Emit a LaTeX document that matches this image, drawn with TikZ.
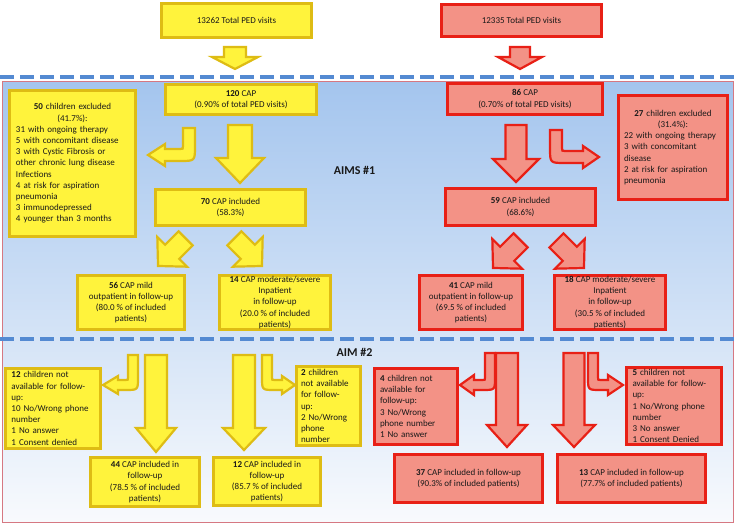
\documentclass[tikz,border=0pt]{standalone}
\usepackage{fontspec}
\setmainfont{Carlito}
\definecolor{yfill}{RGB}{255,243,60}
\definecolor{ydraw}{RGB}{222,188,20}
\definecolor{rfill}{RGB}{243,146,134}
\definecolor{rdraw}{RGB}{232,32,22}
\definecolor{dashblue}{RGB}{84,138,210}
\definecolor{bgtop}{RGB}{164,197,238}
\definecolor{bgbot}{RGB}{248,250,253}
\definecolor{bgedge}{RGB}{214,120,130}
\definecolor{txt}{RGB}{25,25,25}
% straight down block arrow: style, cx, top, headstart, tip, shaft half, head half
\newcommand{\BlkDown}[7]{\draw[#1] ({#2-#6},#3) -- ({#2+#6},#3) -- ({#2+#6},#4) -- ({#2+#7},#4) -- (#2,#5) -- ({#2-#7},#4) -- ({#2-#6},#4) -- cycle;}
% rotated block arrow: style, tail x, tail y, angle, length, head length, shaft half, head half
\newcommand{\BlkDiag}[8]{\draw[#1,shift={(#2,#3)},rotate=#4] (0,-#7) -- ({#5-#6},-#7) -- ({#5-#6},-#8) -- (#5,0) -- ({#5-#6},#8) -- ({#5-#6},#7) -- (0,#7) -- cycle;}
% bent arrow to the left: style, cx, top, shaft half, hy, head base x, tip x, head half
\newcommand{\BlkBentL}[8]{\draw[#1] ({#2-#4},#3) -- ({#2+#4},#3) -- ({#2+#4},{#5+#4-2.5*#4}) .. controls ({#2+#4},{#5+#4}) .. ({#2+#4-2.5*#4},{#5+#4}) -- (#6,{#5+#4}) -- (#6,{#5+#8}) -- (#7,#5) -- (#6,{#5-#8}) -- (#6,{#5-#4}) -- ({#2-#4-0.5*#4},{#5-#4}) .. controls ({#2-#4},{#5-#4}) .. ({#2-#4},{#5-#4-0.5*#4}) -- cycle;}
% bent arrow to the right
\newcommand{\BlkBentR}[8]{\draw[#1] ({#2+#4},#3) -- ({#2-#4},#3) -- ({#2-#4},{#5+#4-2.5*#4}) .. controls ({#2-#4},{#5+#4}) .. ({#2-#4+2.5*#4},{#5+#4}) -- (#6,{#5+#4}) -- (#6,{#5+#8}) -- (#7,#5) -- (#6,{#5-#8}) -- (#6,{#5-#4}) -- ({#2+#4+0.5*#4},{#5-#4}) .. controls ({#2+#4},{#5-#4}) .. ({#2+#4},{#5-#4-0.5*#4}) -- cycle;}
\begin{document}
\begin{tikzpicture}[x=1pt,y=-1pt,
  box/.style={line width=2.6pt, inner sep=0pt, text=txt, font=\fontsize{9}{11.2}\selectfont, align=center},
  ybox/.style={box, fill=yfill, draw=ydraw},
  rbox/.style={box, fill=rfill, draw=rdraw},
  yarr/.style={fill=yfill, draw=ydraw, line width=2.2pt},
  rarr/.style={fill=rfill, draw=rdraw, line width=2.2pt},
  dashln/.style={draw=dashblue, line width=4pt, dash pattern=on 14pt off 6pt},
  aim/.style={font=\fontsize{12}{14}\selectfont\bfseries, text=txt}]
\useasboundingbox (0,0) rectangle (737,525);
\fill[white] (0,0) rectangle (737,525);
% background panel
\shade[top color=bgtop, bottom color=bgbot] (2,81) rectangle (733,522);
\draw[bgedge, line width=0.8pt] (2,81) rectangle (733,522);
\draw[dashln] (0,77) -- (737,77);
\draw[dashln] (0,339) -- (737,339);
% block arrows
\BlkDown{yarr}{235}{47}{57}{69}{11}{23}
\BlkDown{rarr}{520}{47}{57}{69}{10}{22}
\BlkDown{yarr}{240}{125}{158}{183}{12}{24}
\BlkDown{rarr}{516}{125}{159}{182}{10.5}{23}
\BlkDown{yarr}{156}{355}{428}{452}{11}{20}
\BlkDown{yarr}{244}{355}{428}{450}{11}{21}
\BlkDown{rarr}{507}{353}{425}{447}{11}{20}
\BlkDown{rarr}{574}{353}{425}{447}{10.5}{21}
\BlkDiag{yarr}{185.6}{238.4}{225}{39}{20}{10}{21}
\BlkDiag{yarr}{234.4}{238.4}{315}{39}{20}{10}{21}
\BlkDiag{rarr}{520.6}{240.4}{225}{39}{20}{10}{21}
\BlkDiag{rarr}{556.4}{240.4}{315}{39}{20}{10}{21}
\BlkBentL{yarr}{189}{128}{6}{155}{165}{148}{11}
\BlkBentR{rarr}{556}{130}{6}{157}{583}{599}{11}
\BlkBentL{yarr}{133}{355}{5}{385}{118}{103}{9}
\BlkBentR{yarr}{267}{355}{5}{385}{282}{295}{9}
\BlkBentL{rarr}{490}{353}{5}{385}{474}{460}{10}
\BlkBentR{rarr}{593}{353}{5}{385}{608}{623}{10}
% labels
\node[aim] (aim1) at (354.5,170) {AIMS \#1};
\node[aim] (aim2) at (354.5,352) {AIM \#2};
% boxes
\node[ybox, minimum width=150, minimum height=34] (yTop) at (236.5,20.5) {13262 Total PED visits};
\node[rbox, minimum width=160, minimum height=32] (rTop) at (521.5,20.5) {12335 Total PED visits};
\node[ybox, minimum width=151, minimum height=30] (yCap) at (241,99.5) {\textbf{120} CAP\\(0.90\% of total PED visits)};
\node[rbox, minimum width=155, minimum height=31] (rCap) at (525,99) {\textbf{86} CAP\\(0.70\% of total PED visits)};
\node[ybox, minimum width=126, minimum height=146, text width=113, align=left] (yEx) at (72.5,163.5) {\centering\textbf{50} children excluded\\(41.7\%):\par\raggedright 31 with ongoing therapy\\5 with concomitant disease\\3 with Cystic Fibrosis or\\other chronic lung disease\\Infections\\4 at risk for aspiration\\pneumonia\\3 immunodepressed\\4 younger than 3 months};
\node[rbox, minimum width=109, minimum height=104, text width=98, align=left] (rEx) at (673,147.5) {\centering\textbf{27} children excluded\\(31.4\%):\par\raggedright 22 with ongoing therapy\\3 with concomitant\\disease\\2 at risk for aspiration\\pneumonia};
\node[ybox, minimum width=150, minimum height=36] (yInc) at (230.5,207.5) {\textbf{70} CAP included\\(58.3\%)};
\node[rbox, minimum width=150, minimum height=37] (rInc) at (520.5,207) {\textbf{59} CAP included\\(68.6\%)};
\node[ybox, minimum width=107, minimum height=54] (yMild) at (131,302.5) {\textbf{56} CAP mild\\outpatient in follow-up\\(80.0 \% of included\\patients)};
\node[ybox, minimum width=111, minimum height=54] (yMod) at (275,302.5) {\textbf{14} CAP moderate/severe\\Inpatient\\in follow-up\\(20.0 \% of included\\patients)};
\node[rbox, minimum width=103, minimum height=54] (rMild) at (471,302.5) {\textbf{41} CAP mild\\outpatient in follow-up\\(69.5 \% of included\\patients)};
\node[rbox, minimum width=111, minimum height=54] (rMod) at (610,302.5) {\textbf{18} CAP moderate/severe\\Inpatient\\in follow-up\\(30.5 \% of included\\patients)};
\node[ybox, minimum width=95, minimum height=80, text width=83, align=left] (yNA1) at (53,408.5) {\textbf{12} children not\\available for follow-\\up:\\10 No/Wrong phone\\number\\1 No answer\\1 Consent denied};
\node[ybox, minimum width=109, minimum height=49] (yFU1) at (145,482) {\textbf{44} CAP included in\\follow-up\\(78.5 \% of included\\patients)};
\node[ybox, minimum width=107, minimum height=48] (yFU2) at (267,481.5) {\textbf{12} CAP included in\\follow-up\\(85.7 \% of included\\patients)};
\node[ybox, minimum width=64, minimum height=79, text width=55, align=left] (yNA2) at (328.5,406) {\textbf{2} children\\not available\\for follow-\\up:\\2 No/Wrong\\phone\\number};
\node[rbox, minimum width=83, minimum height=76, text width=72, align=left] (rNA1) at (416,406.5) {\textbf{4} children not\\available for\\follow-up:\\3 No/Wrong\\phone number\\1 No answer};
\node[rbox, minimum width=148, minimum height=48] (rFU1) at (468.5,478.5) {\textbf{37} CAP included in follow-up\\(90.3\% of included patients)};
\node[rbox, minimum width=148, minimum height=48] (rFU2) at (631.5,478.5) {\textbf{13} CAP included in follow-up\\(77.7\% of included patients)};
\node[rbox, minimum width=95, minimum height=77, text width=83, align=left] (rNA2) at (674,406) {\textbf{5} children not\\available for follow-\\up:\\1 No/Wrong phone\\number\\3 No answer\\1 Consent Denied};
\end{tikzpicture}
\end{document}
